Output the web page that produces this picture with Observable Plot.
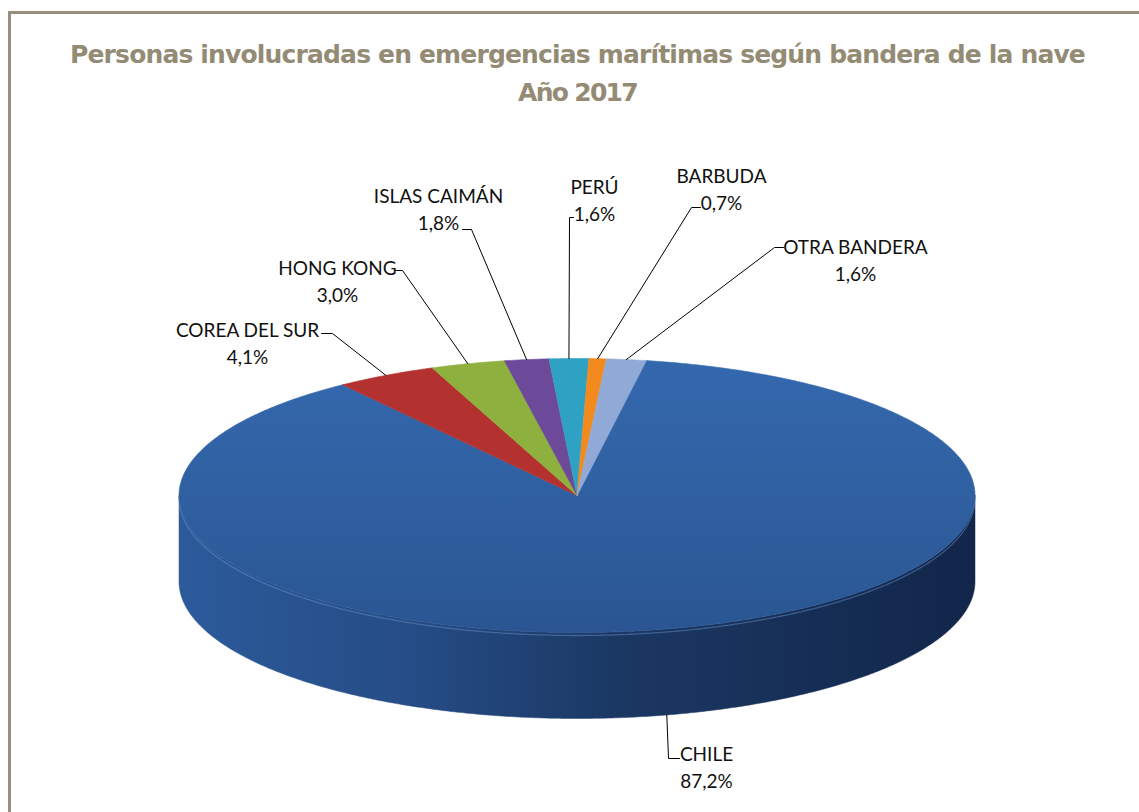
<!DOCTYPE html>
<html>
<head>
<meta charset="utf-8">
<script src="https://cdn.jsdelivr.net/npm/d3@7"></script>
<script src="https://cdn.jsdelivr.net/npm/@observablehq/plot@0.6"></script>
<style>
html, body { margin: 0; padding: 0; background: #fff; width: 1139px; height: 812px; overflow: hidden; }
#frame { position: absolute; left: 8px; top: 11px; width: 1300px; height: 1000px; box-sizing: border-box;
  border-left: 3px solid #978F7B; border-top: 3px solid #978F7B; }
.tl { position: absolute; left: 8px; width: 1139px; text-align: center; white-space: nowrap;
  font-family: "DejaVu Sans", sans-serif; font-weight: bold; font-size: 25px; line-height: 25px; color: #948B74; }
#chart { position: absolute; left: 0; top: 120px; }
</style>
</head>
<body>
<div id="frame"></div>
<div class="tl" id="t1" style="top:42px"><span>Personas involucradas en emergencias marítimas según bandera de la nave</span></div>
<div class="tl" id="t2" style="top:80px"><span>Año 2017</span></div>
<div id="chart"></div>
<script>
// ---- data ----
const categories = ["CHILE", "COREA DEL SUR", "HONG KONG", "ISLAS CAIMÁN", "PERÚ", "BARBUDA", "OTRA BANDERA"];
const shares = [87.2, 4.1, 3.0, 1.8, 1.6, 0.7, 1.6];

// ---- styles / layout (page pixel coordinates) ----
const sliceColors = ["url(#chileTop)", "#B3322F", "#8DB03F", "#6C4A99", "#2FA2C4", "#F28A1E", "#90A9D7"];
const labelCenters = [[706, 765], [247, 341], [337, 279], [438, 207.5], [594, 198.5], [721, 187.5], [855, 258.5]];
const leaderTicks = [
  [[679, 758], [668, 758]],
  [[321, 333], [332, 333]],
  [[395, 270], [402, 270]],
  [[462, 229], [471, 229]],
  [[573, 217], [569, 217]],
  [[700, 207], [691, 207]],
  [[783, 247], [774, 247]]
];
const cx = 576.5, cy = 495, rx = 398, ry = 137, depth = 86;
const deg = Math.PI / 180;
const startAngle = 10 * deg;

// fit title widths
function fit(id, target) {
  const el = document.querySelector("#" + id + " span");
  const w = el.getBoundingClientRect().width;
  const n = el.textContent.length;
  el.style.letterSpacing = ((target - w) / n) + "px";
}
fit("t1", 1015);
fit("t2", 119);

const rows = categories.map((name, i) => ({name, share: shares[i], color: sliceColors[i], label: labelCenters[i], tick: leaderTicks[i]}));
const arcs = d3.pie().sort(null).value(d => d.share).startAngle(startAngle).endAngle(startAngle + 2 * Math.PI)(rows);

const P = (a, dz = 0) => ({x: cx + rx * Math.sin(a), y: cy - ry * Math.cos(a) + dz});
function arcPoints(a0, a1, dz = 0) {
  const n = Math.max(2, Math.ceil(Math.abs(a1 - a0) / (0.5 * deg)));
  return d3.range(n + 1).map(i => P(a0 + (a1 - a0) * i / n, dz));
}

// shadow outline
const outline = [...arcPoints(-Math.PI / 2, Math.PI / 2), ...arcPoints(Math.PI / 2, 3 * Math.PI / 2, depth)]
  .map(p => ({x: p.x, y: p.y + 4}));

// side walls (front half only)
const sideMarks = [];
for (const a of arcs) {
  const s = Math.max(a.startAngle, Math.PI / 2), e = Math.min(a.endAngle, 3 * Math.PI / 2);
  if (e > s) {
    const poly = [...arcPoints(s, e), ...arcPoints(e, s, depth)];
    const f = a.data.name === "CHILE" ? "url(#chileSide)" : d3.color(a.data.color).darker(1).formatHex();
    sideMarks.push(Plot.line(poly, {x: "x", y: "y", fill: f, stroke: f, strokeWidth: 0.5, curve: "linear-closed"}));
  }
}

// top slices
const topMarks = arcs.map(a => {
  const poly = [{x: cx, y: cy}, ...arcPoints(a.startAngle, a.endAngle)];
  return Plot.line(poly, {x: "x", y: "y", fill: a.data.color, stroke: a.data.color, strokeWidth: 0.6, curve: "linear-closed"});
});

// leaders
const leaders = arcs.flatMap(a => {
  const mid = (a.startAngle + a.endAngle) / 2;
  const front = Math.cos(mid) < 0; // front half -> bottom of side wall
  const end = front ? P(mid, depth) : P(mid);
  const t = a.data.tick;
  return [
    {name: a.data.name, x: t[0][0], y: t[0][1]},
    {name: a.data.name, x: t[1][0], y: t[1][1]},
    {name: a.data.name, x: end.x, y: end.y}
  ];
});

const fmt = v => d3.format(".1f")(v).replace(".", ",") + "%";
const labels = rows.map(r => ({x: r.label[0], y: r.label[1], text: `${r.name}\n${fmt(r.share)}`}));

const W = 1139, H = 692, topOffset = 120;
const svg = Plot.plot({
  width: W, height: H,
  margin: 0,
  x: {domain: [0, W], range: [0, W], axis: null},
  y: {domain: [topOffset, topOffset + H], range: [0, H], axis: null},
  style: {background: "transparent", fontFamily: "Lato, sans-serif"},
  marks: [
    Plot.line(outline, {x: "x", y: "y", fill: "#000", fillOpacity: 0.55, stroke: "none", curve: "linear-closed", ariaLabel: "shadow"}),
    ...sideMarks,
    Plot.line(arcPoints(Math.PI / 2 + 0.04, 3 * Math.PI / 2 - 0.04, 3), {x: "x", y: "y", stroke: "#6A95CF", strokeOpacity: 0.45, strokeWidth: 1.3}),
    ...topMarks,
    Plot.line(leaders, {x: "x", y: "y", z: "name", stroke: "#000", strokeWidth: 1}),
    Plot.text(labels, {x: "x", y: "y", text: "text", fontSize: 19, lineHeight: 1.42, fill: "#111", fontFamily: "Lato, sans-serif"})
  ]
});

const ys = v => v - topOffset;
const defs = d3.select(svg).insert("defs", ":first-child");
const gTop = defs.append("linearGradient").attr("id", "chileTop").attr("gradientUnits", "userSpaceOnUse")
  .attr("x1", 0).attr("x2", 0).attr("y1", ys(cy - ry)).attr("y2", ys(cy + ry));
gTop.append("stop").attr("offset", "0%").attr("stop-color", "#3468AD");
gTop.append("stop").attr("offset", "55%").attr("stop-color", "#2F5FA0");
gTop.append("stop").attr("offset", "100%").attr("stop-color", "#2A5592");
const gSide = defs.append("linearGradient").attr("id", "chileSide").attr("gradientUnits", "userSpaceOnUse")
  .attr("x1", cx - rx).attr("x2", cx + rx).attr("y1", 0).attr("y2", 0);
gSide.append("stop").attr("offset", "0%").attr("stop-color", "#2C5A9B");
gSide.append("stop").attr("offset", "30%").attr("stop-color", "#254C85");
gSide.append("stop").attr("offset", "55%").attr("stop-color", "#1B3863");
gSide.append("stop").attr("offset", "100%").attr("stop-color", "#12264A");
const filt = defs.append("filter").attr("id", "blur").attr("x", "-10%").attr("y", "-20%").attr("width", "120%").attr("height", "140%");
filt.append("feGaussianBlur").attr("stdDeviation", 5);
d3.select(svg).select('g[aria-label="shadow"]').attr("filter", "url(#blur)");

document.getElementById("chart").appendChild(svg);
</script>
</body>
</html>
